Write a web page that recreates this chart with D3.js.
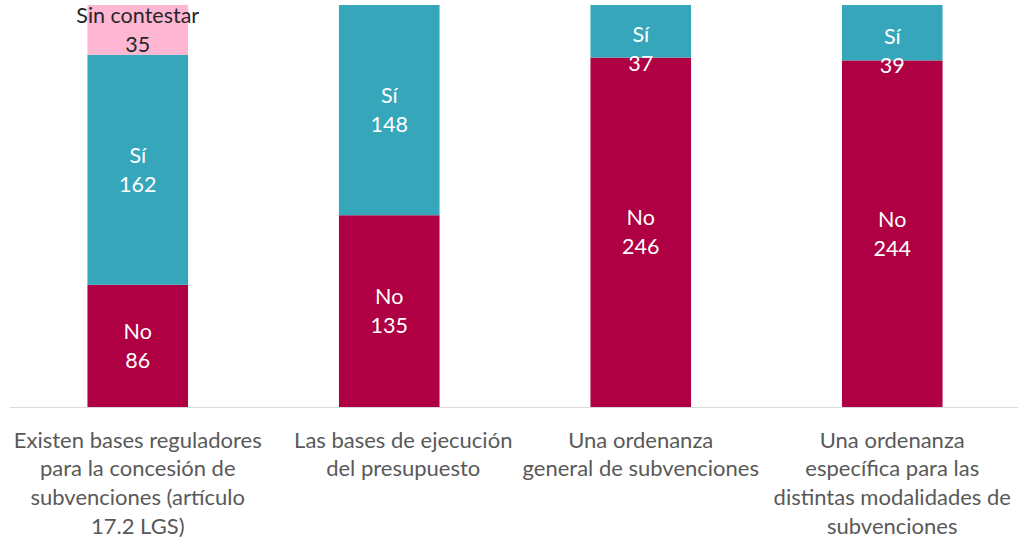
<!DOCTYPE html>
<html>
<head>
<meta charset="utf-8">
<script src="https://cdn.jsdelivr.net/npm/d3@7"></script>
<style>
    body { margin: 0; background: #fff; }
    svg text { font-family: Lato, "Open Sans", sans-serif; }
</style>
</head>
<body>
<div class="chart"></div>
<script>
// categories (wrapped as in the original)
const categories = [
    ["Existen bases reguladores", "para la concesión de", "subvenciones (artículo", "17.2 LGS)"],
    ["Las bases de ejecución", "del presupuesto"],
    ["Una ordenanza", "general de subvenciones"],
    ["Una ordenanza", "específica para las", "distintas modalidades de", "subvenciones"]
];
const seriesNames = ["No", "Sí", "Sin contestar"];
const noValues = [86, 135, 246, 244];
const siValues = [162, 148, 37, 39];
const sinContestarValues = [35, 0, 0, 0];

const colors = {"No": "#AE0042", "Sí": "#36A6BB", "Sin contestar": "#FFB6D3"};
const labelColors = {"No": "#ffffff", "Sí": "#ffffff", "Sin contestar": "#262626"};

let data = categories.map(function (c, i) {
    return {key: i, "No": noValues[i], "Sí": siValues[i], "Sin contestar": sinContestarValues[i]};
});

let width = 1018, height = 542;
let svg = d3.select(".chart").append("svg")
    .attr("width", width).attr("height", height);

let x = d3.scaleBand()
    .domain(data.map(function (d) { return d.key; }))
    .range([12, 1018])
    .paddingInner(0.6)
    .paddingOuter(0.3);

let y = d3.scaleLinear()
    .domain([0, 283])
    .range([407, 5]);

let stacked = d3.stack().keys(seriesNames)(data);

let layers = svg.append("g")
    .selectAll("g")
    .data(stacked)
    .enter().append("g")
    .attr("fill", function (d) { return colors[d.key]; });

layers.selectAll("rect")
    .data(function (d) { return d; })
    .enter().append("rect")
    .attr("x", function (d) { return x(d.data.key); })
    .attr("y", function (d) { return y(d[1]); })
    .attr("height", function (d) { return y(d[0]) - y(d[1]); })
    .attr("width", x.bandwidth());

// baseline
svg.append("line")
    .attr("x1", 10).attr("x2", 1018)
    .attr("y1", y(0) + 0.5).attr("y2", y(0) + 0.5)
    .attr("stroke", "#D9D9D9").attr("stroke-width", 1);

// small nudges where the original labels were moved off centre
function labelShift(key, i) {
    if (key === "Sí" && (i === 2 || i === 3)) return 18;
    return 0;
}

stacked.forEach(function (layer) {
    layer.forEach(function (d, i) {
        let v = d[1] - d[0];
        if (!v) return;
        let cx = x(d.data.key) + x.bandwidth() / 2;
        let cy = (y(d[0]) + y(d[1])) / 2 + labelShift(layer.key, i);
        let t = svg.append("text")
            .attr("text-anchor", "middle")
            .attr("font-size", "21.5px")
            .attr("fill", labelColors[layer.key]);
        t.append("tspan").attr("x", cx).attr("y", cy - 14.5 + 7.5).text(layer.key);
        t.append("tspan").attr("x", cx).attr("y", cy + 14.5 + 7.5).text(v);
    });
});

// category labels
let catShift = [0, 14, 0, 0];
categories.forEach(function (lines, i) {
    let cx = x(i) + x.bandwidth() / 2 + catShift[i];
    let t = svg.append("text")
        .attr("text-anchor", "middle")
        .attr("font-size", "22px")
        .attr("fill", "#595959");
    lines.forEach(function (line, j) {
        t.append("tspan").attr("x", cx).attr("y", 447.5 + j * 28.7).text(line);
    });
});
</script>
</body>
</html>
